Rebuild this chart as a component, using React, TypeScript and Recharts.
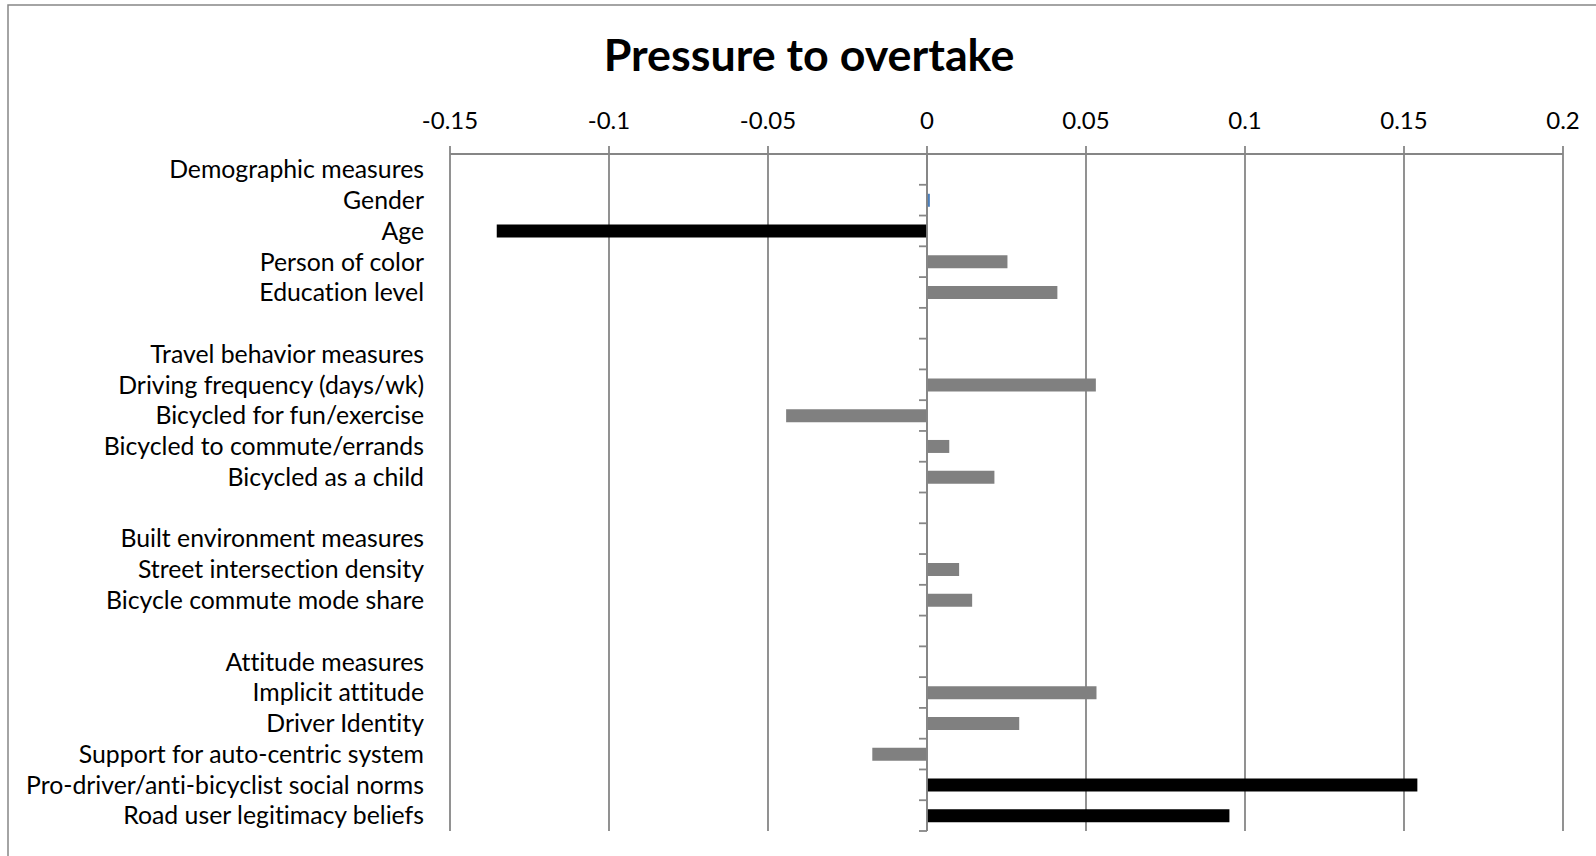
import React from 'react';
import { BarChart, Bar, XAxis, YAxis, CartesianGrid, ReferenceLine, Cell } from 'recharts';

const categories: string[] = [
  'Demographic measures',
  'Gender',
  'Age',
  'Person of color',
  'Education level',
  '',
  'Travel behavior measures',
  'Driving frequency (days/wk)',
  'Bicycled for fun/exercise',
  'Bicycled to commute/errands',
  'Bicycled as a child',
  '',
  'Built environment measures',
  'Street intersection density',
  'Bicycle commute mode share',
  '',
  'Attitude measures',
  'Implicit attitude',
  'Driver Identity',
  'Support for auto-centric system',
  'Pro-driver/anti-bicyclist social norms',
  'Road user legitimacy beliefs',
];

const coefficients: (number | null)[] = [
  null, 0.0009, -0.1353, 0.0253, 0.041,
  null,
  null, 0.0531, -0.0443, 0.007, 0.0212,
  null,
  null, 0.0101, 0.0142,
  null,
  null, 0.0533, 0.029, -0.0172, 0.1542, 0.0951,
];

// 'sig' = significant, 'ns' = not significant, 'ref' = gender bar
const significance: string[] = [
  '', 'ref', 'sig', 'ns', 'ns',
  '',
  '', 'ns', 'ns', 'ns', 'ns',
  '',
  '', 'ns', 'ns',
  '',
  '', 'ns', 'ns', 'ns', 'sig', 'sig',
];

const xTicks: number[] = [-0.15, -0.1, -0.05, 0, 0.05, 0.1, 0.15, 0.2];

const title = 'Pressure to overtake';

const colorMap: Record<string, string> = { sig: '#000000', ns: '#808080', ref: '#4A7EBB', '': '#808080' };

const data = categories.map((c, i) => ({ id: String(i), label: c, value: coefficients[i], group: significance[i] }));

const GRID = '#868686';
const FONT = 'Lato, "Open Sans", sans-serif';

const ZeroAxis = (props: any) => {
  const { x1, y1, x2, y2 } = props;
  const top = Math.min(y1, y2);
  const bottom = Math.max(y1, y2);
  const n = categories.length;
  const marks = [];
  for (let k = 0; k <= n; k++) {
    const y = top + ((bottom - top) * k) / n;
    marks.push(<line key={k} x1={x1 - 8} x2={x1} y1={y} y2={y} stroke={GRID} strokeWidth={1.8} />);
  }
  return (
    <g>
      <line x1={x1} x2={x2} y1={y1} y2={y2} stroke={GRID} strokeWidth={1.8} />
      {marks}
    </g>
  );
};

export default function App() {
  return (
    <div
      style={{
        position: 'fixed',
        left: 0,
        top: 0,
        width: 1596,
        height: 856,
        overflow: 'hidden',
        background: '#fff',
        fontVariantLigatures: 'none',
        fontFeatureSettings: '"liga" 0, "clig" 0',
      }}
    >
      <svg width={1596} height={856} style={{ position: 'absolute', left: 0, top: 0 }}>
        <rect x={8} y={5} width={1700} height={1000} fill="#fff" stroke={GRID} strokeWidth={1.5} />
        <text x={809} y={71} textAnchor="middle" fontFamily={FONT} fontWeight={700} fontSize={44.8} fill="#000">
          {title}
        </text>
      </svg>
      <div style={{ position: 'absolute', left: 0, top: 0 }}>
        <BarChart
          layout="vertical"
          width={1596}
          height={856}
          data={data}
          margin={{ top: 84, right: 33, bottom: 25, left: 0 }}
          barCategoryGap={0}
        >
          <CartesianGrid horizontal={false} stroke={GRID} strokeWidth={1.8} />
          <XAxis
            type="number"
            orientation="top"
            domain={[-0.15, 0.2]}
            ticks={xTicks}
            interval={0}
            height={70}
            axisLine={{ stroke: GRID, strokeWidth: 1.8 }}
            tickLine={{ stroke: GRID, strokeWidth: 1.8 }}
            tickSize={8}
            tickMargin={17}
            tick={{ fontSize: 24, fill: '#000', fontFamily: FONT }}
            allowDataOverflow
          />
          <YAxis
            type="category"
            dataKey="id"
            width={450}
            interval={0}
            axisLine={false}
            tickLine={false}
            tickSize={0}
            tickMargin={26}
            tickFormatter={(v: string) => categories[Number(v)]}
            tick={{ fontSize: 24.8, fill: '#000', fontFamily: FONT }}
          />
          <ReferenceLine x={0} shape={ZeroAxis} />
          <Bar dataKey="value" barSize={13} isAnimationActive={false}>
            {data.map((d, i) => (
              <Cell key={i} fill={colorMap[d.group]} />
            ))}
          </Bar>
        </BarChart>
      </div>
    </div>
  );
}
